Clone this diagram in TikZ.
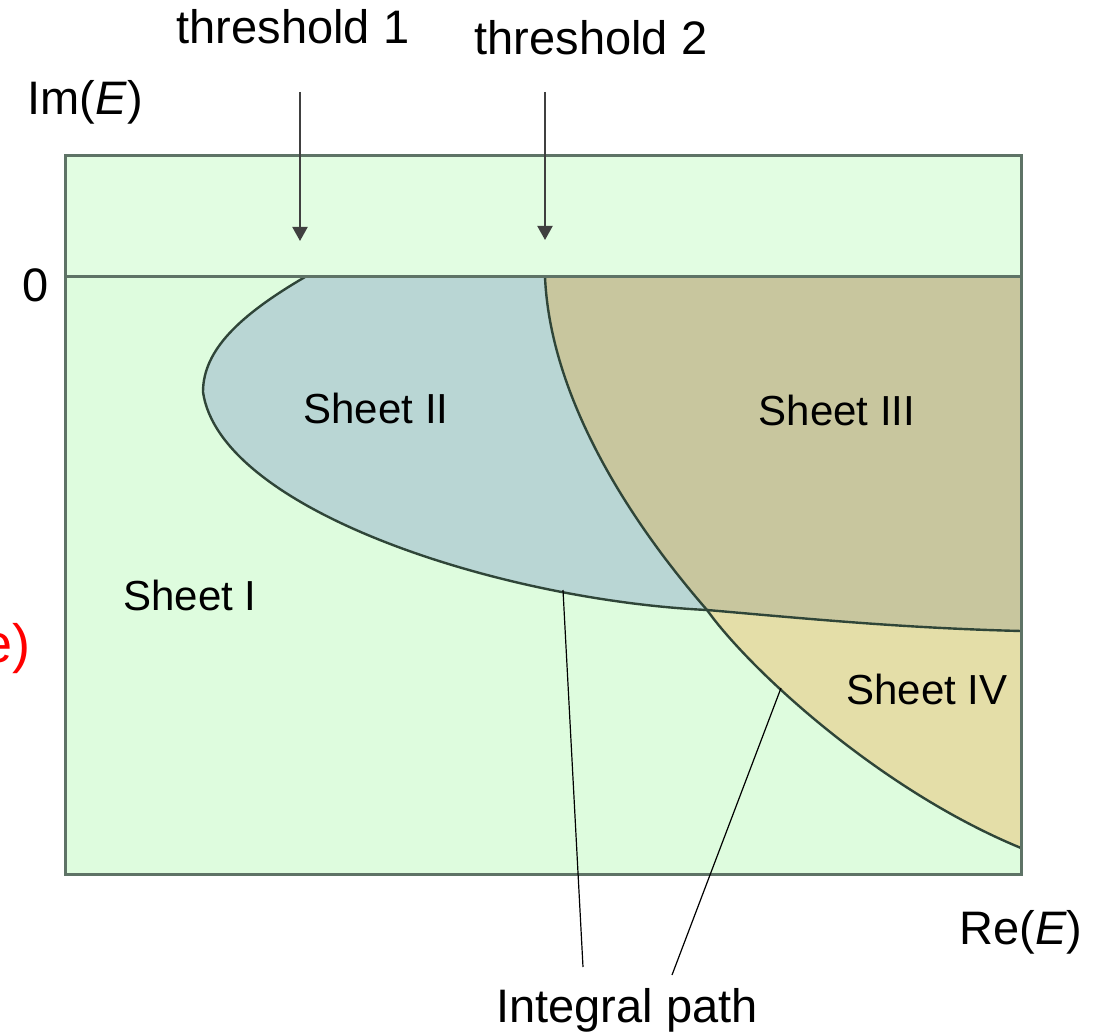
\documentclass[tikz,border=0pt]{standalone}
\usepackage{fontspec}
\setmainfont{Liberation Sans}
\usetikzlibrary{arrows.meta}
\definecolor{sheetone}{HTML}{DEFCDE}
\definecolor{stripfill}{HTML}{E2FDE2}
\definecolor{sheettwo}{HTML}{B9D6D4}
\definecolor{sheetthree}{HTML}{C8C69E}
\definecolor{sheetfour}{HTML}{E4DEA8}
\definecolor{framecol}{HTML}{5E7366}
\definecolor{cutcol}{HTML}{2F4538}
\definecolor{arrowcol}{HTML}{404040}
\begin{document}
\begin{tikzpicture}[x=0.5pt,y=-0.5pt,
  biglabel/.style={font=\fontsize{23.5}{28}\selectfont, inner sep=0pt},
  sheetlabel/.style={font=\fontsize{21}{25}\selectfont, inner sep=0pt},
  frame/.style={draw=framecol, line width=1.5pt},
  cut/.style={draw=cutcol, line width=1.2pt},
  threshold/.style={draw=arrowcol, line width=1pt, -{Triangle[width=7.5pt,length=7pt]}},
  pointer/.style={draw=black, line width=0.6pt}]
\useasboundingbox (0,0) rectangle (1104,1032);

% plane background: lower half-plane and the strip above the real axis
\fill[sheetone] (65,156) rectangle (1021,874);
\fill[stripfill] (65,156) rectangle (1021,277);

% Sheet II: between the parabola-like cut and the second cut
\fill[sheettwo] (305,277) .. controls (240,315) and (203,350) .. (203,392)
  .. controls (220,510) and (500,600) .. (707,610)
  .. controls (620,510) and (550,390) .. (545,277) -- cycle;

% Sheet III: right of the second cut, above the first cut
\fill[sheetthree] (545,277) .. controls (550,390) and (620,510) .. (707,610)
  .. controls (800,618) and (900,628) .. (1021,631) -- (1021,277) -- cycle;

% Sheet IV: below the first cut, right of the second cut
\fill[sheetfour] (707,610) .. controls (800,618) and (900,628) .. (1021,631) -- (1021,848)
  .. controls (880,790) and (750,670) .. (707,610) -- cycle;

% branch cuts
\draw[cut] (305,277) .. controls (240,315) and (203,350) .. (203,392)
  .. controls (220,510) and (500,600) .. (707,610)
  .. controls (800,618) and (900,628) .. (1021,631);
\draw[cut] (545,277) .. controls (550,390) and (620,510) .. (707,610)
  .. controls (750,670) and (880,790) .. (1021,848);

% frame and real axis
\draw[frame] (65,156) rectangle (1021,874);
\draw[frame] (65,277) -- (1021,277);

% axis labels
\node[biglabel, anchor=base west] (imlab) at (27,115) {Im(\textit{E})};
\node[biglabel, anchor=base] (zero) at (36,302) {0};
\node[biglabel, anchor=base] (relab) at (1021,944) {Re(\textit{E})};
\node[inner sep=0pt, anchor=base west, text=red, font=\fontsize{27}{32}\selectfont] (redtail) at (-18,662) {e)};

% thresholds
\node[biglabel, anchor=base] (thr1) at (293,44) {threshold 1};
\node[biglabel, anchor=base] (thr2) at (591,55) {threshold 2};
\coordinate (thr1top) at (300,92);
\coordinate (thr1tip) at (300,241);
\coordinate (thr2top) at (545,92);
\coordinate (thr2tip) at (545,240);
\draw[threshold] (thr1top) -- (thr1tip);
\draw[threshold] (thr2top) -- (thr2tip);

% sheet labels
\node[sheetlabel, anchor=base] (s1) at (190,610) {Sheet I};
\node[sheetlabel, anchor=base] (s2) at (376,423) {Sheet II};
\node[sheetlabel, anchor=base] (s3) at (837,425) {Sheet III};
\node[sheetlabel, anchor=base] (s4) at (927,704) {Sheet IV};

% integral path label and its pointers
\node[biglabel, anchor=base] (ipath) at (627,1022) {Integral path};
\coordinate (onfirst) at (563,590);
\coordinate (onsecond) at (781,688);
\coordinate (ptrA) at (583,967);
\coordinate (ptrB) at (672,975);
\draw[pointer] (onfirst) -- (ptrA);
\draw[pointer] (onsecond) -- (ptrB);
\end{tikzpicture}
\end{document}
